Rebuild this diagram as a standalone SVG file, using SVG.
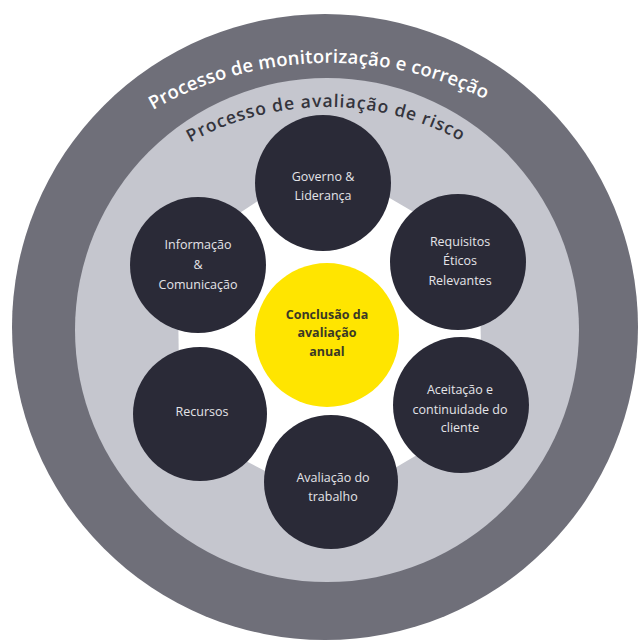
<svg xmlns="http://www.w3.org/2000/svg" width="643" height="644" viewBox="0 0 643 644">
<style>
.node{fill:#2a2a37}
.lbl{font-family:"Open Sans","Noto Sans",sans-serif;font-size:12.5px;fill:#e4e4e8;text-anchor:middle}
.ctr{font-family:"Open Sans","Noto Sans",sans-serif;font-size:12.5px;font-weight:bold;fill:#3a3826;text-anchor:middle}
.arc1{font-family:"Open Sans","Noto Sans",sans-serif;font-size:18.5px;font-weight:600;fill:#ffffff}
.arc2{font-family:"Open Sans","Noto Sans",sans-serif;font-size:17.5px;font-weight:600;fill:#34343c}
</style>
<defs>
<path id="outerArc" d="M153,110 A352,352 0 0 1 531,126.6"/>
<path id="innerArc" d="M190.4,142.5 A281,281 0 0 1 507.6,172.7"/>
</defs>
<rect width="643" height="644" fill="#ffffff"/>
<g id="ring-monitorizacao">
<circle cx="325" cy="327" r="313" fill="#6f6f79"/>
<text class="arc1"><textPath href="#outerArc" textLength="346" lengthAdjust="spacing">Processo de monitorização e correção</textPath></text>
</g>
<g id="ring-avaliacao-risco">
<circle cx="327" cy="330" r="252" fill="#c5c6ce"/>
<text class="arc2"><textPath href="#innerArc" textLength="282" lengthAdjust="spacing">Processo de avaliação de risco</textPath></text>
</g>
<g id="connectors">
<polygon points="322.4,158.7 479,250.3 482.4,416.2 331.6,505.5 179.7,426.6 177.4,253.8" fill="#ffffff"/>
</g>
<g id="governo">
<circle class="node" cx="323" cy="183" r="68"/>
<text class="lbl" x="323" y="181">Governo &amp;</text>
<text class="lbl" x="323" y="200">Liderança</text>
</g>
<g id="requisitos">
<circle class="node" cx="458" cy="262" r="68"/>
<text class="lbl" x="460" y="246">Requisitos</text>
<text class="lbl" x="460" y="265">Éticos</text>
<text class="lbl" x="460" y="285">Relevantes</text>
</g>
<g id="aceitacao">
<circle class="node" cx="461" cy="405" r="68"/>
<text class="lbl" x="460" y="394">Aceitação e</text>
<text class="lbl" x="460" y="414">continuidade do</text>
<text class="lbl" x="460" y="432">cliente</text>
</g>
<g id="avaliacao-trabalho">
<circle class="node" cx="331" cy="482" r="67"/>
<text class="lbl" x="333" y="482">Avaliação do</text>
<text class="lbl" x="333" y="501">trabalho</text>
</g>
<g id="recursos">
<circle class="node" cx="200" cy="414" r="67"/>
<text class="lbl" x="202" y="416">Recursos</text>
</g>
<g id="informacao">
<circle class="node" cx="198" cy="265" r="68"/>
<text class="lbl" x="198" y="249">Informação</text>
<text class="lbl" x="198" y="269">&amp;</text>
<text class="lbl" x="198" y="289">Comunicação</text>
</g>
<g id="conclusao">
<circle cx="327" cy="335" r="72" fill="#ffe500"/>
<text class="ctr" x="327" y="319">Conclusão da</text>
<text class="ctr" x="327" y="337">avaliação</text>
<text class="ctr" x="327" y="356">anual</text>
</g>
</svg>
